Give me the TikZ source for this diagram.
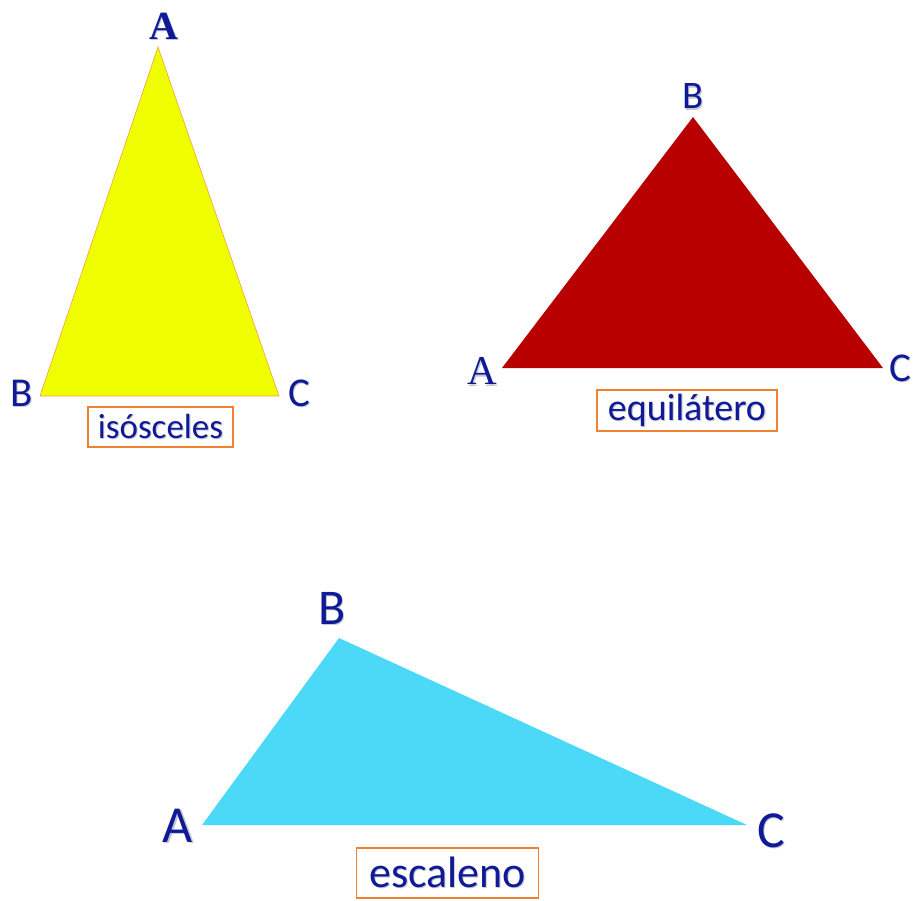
\documentclass[tikz,border=0pt]{standalone}
\usepackage{fontspec}
\setmainfont{Carlito}
\newfontfamily\serifA{Liberation Serif}
\definecolor{navy}{HTML}{101A96}
\definecolor{shade}{HTML}{C4C7D4}
\definecolor{ylw}{HTML}{F0FF00}
\definecolor{ylwedge}{HTML}{F0A040}
\definecolor{dred}{HTML}{B80000}
\definecolor{cyanfill}{HTML}{4CD9F8}
\definecolor{boxorange}{HTML}{F08232}
\newcommand\shd[1]{\makebox[0pt][l]{\raisebox{-1.1pt}{\hspace{1.1pt}\textcolor{shade}{#1}}}#1}
\begin{document}
\begin{tikzpicture}[x=1pt,y=-1pt,
  vlabel/.style={text=navy,inner sep=0pt,font=\fontsize{41}{41}\selectfont},
  vlabelbig/.style={text=navy,inner sep=0pt,font=\fontsize{52}{52}\selectfont},
  serlabel/.style={text=navy,inner sep=0pt,font=\serifA\bfseries\fontsize{40}{40}\selectfont},
  namebox/.style={draw=boxorange,line width=1.8pt,text=navy,inner sep=0pt,anchor=center}]
\useasboundingbox (0,0) rectangle (913,900);
% isosceles
\coordinate (iA) at (158,47);
\coordinate (iB) at (40,396);
\coordinate (iC) at (279,396);
\fill[ylw,draw=ylwedge,line width=0.6pt,line join=miter] (iA) -- (iB) -- (iC) -- cycle;
\node[serlabel] (liA) at (164,27) {\shd{A}};
\node[vlabel] (liB) at (22,394) {\shd{B}};
\node[vlabel] (liC) at (299,394) {\shd{C}};
\node[namebox,minimum width=145pt,minimum height=40pt] (iso) at (160.5,427) {\fontsize{35}{35}\selectfont\shd{isósceles}};
% equilateral
\coordinate (eB) at (693,117);
\coordinate (eA) at (502,368);
\coordinate (eC) at (883,368);
\fill[dred] (eA) -- (eB) -- (eC) -- cycle;
\node[vlabel,font=\fontsize{39}{39}\selectfont] (leB) at (693,97) {\shd{B}};
\node[serlabel,font=\serifA\fontsize{41}{41}\selectfont] (leA) at (482,372) {\shd{A}};
\node[vlabel] (leC) at (900,369) {\shd{C}};
\node[namebox,minimum width=180pt,minimum height=41pt] (equ) at (687,410.5) {\fontsize{38}{38}\selectfont\shd{equilátero}};
% scalene
\coordinate (sB) at (339,638);
\coordinate (sA) at (202,825);
\coordinate (sC) at (747,825);
\fill[cyanfill] (sA) -- (sB) -- (sC) -- cycle;
\node[vlabelbig,font=\fontsize{50}{50}\selectfont] (lsB) at (332,609) {\shd{B}};
\node[vlabelbig] (lsA) at (178,826) {\shd{A}};
\node[vlabelbig] (lsC) at (771,831) {\shd{C}};
\node[namebox,minimum width=182pt,minimum height=50pt] (sca) at (447.5,873) {\fontsize{44}{44}\selectfont\shd{escaleno}};
\end{tikzpicture}
\end{document}
